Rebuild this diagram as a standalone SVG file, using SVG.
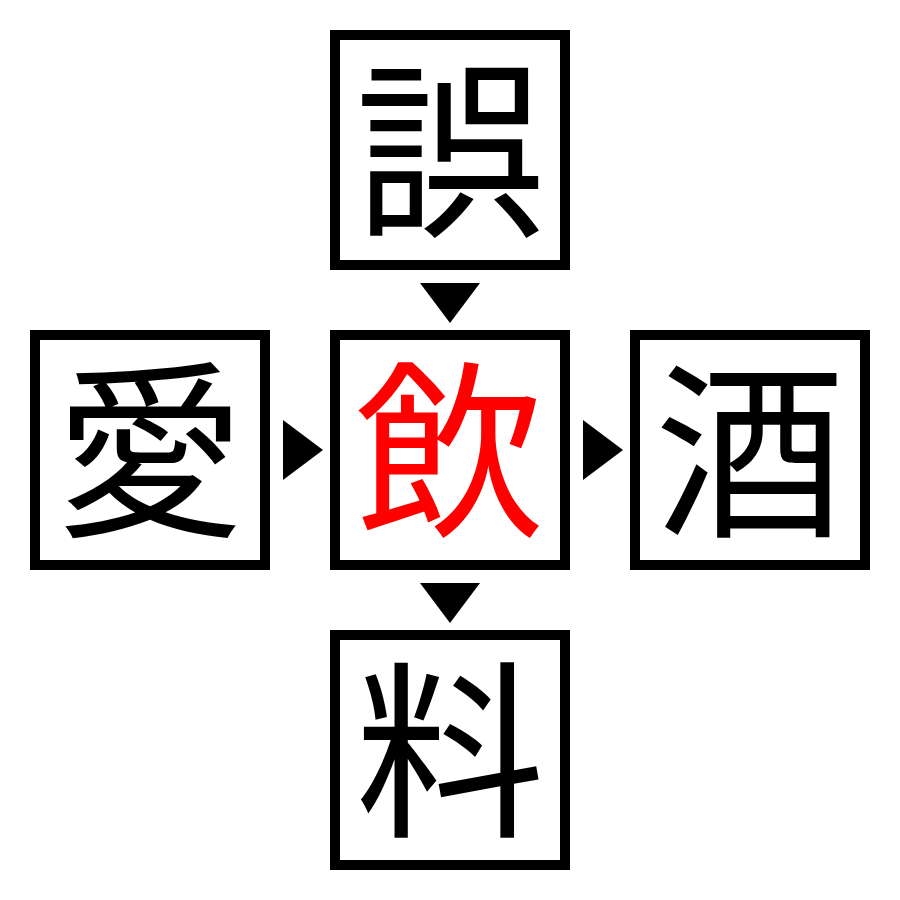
<svg xmlns="http://www.w3.org/2000/svg" width="900" height="900" viewBox="0 0 900 900">
<style>
.box{fill:#fff;stroke:#000;stroke-width:10}
.ch{font-family:"Noto Sans CJK JP","Noto Sans CJK SC",sans-serif;font-size:190px;text-anchor:middle}
.arr{fill:#000}
</style>
<rect width="900" height="900" fill="#fff"/>
<g id="connectors">
<polygon class="arr" points="420,283 480,283 450,323"/>
<polygon class="arr" points="283,420 283,480 323,450"/>
<polygon class="arr" points="583,420 583,480 623,450"/>
<polygon class="arr" points="420,583 480,583 450,623"/>
</g>
<g id="node-top"><rect class="box" x="335" y="35" width="230" height="230"/><text class="ch" x="450" y="222">誤</text></g>
<g id="node-left"><rect class="box" x="35" y="335" width="230" height="230"/><text class="ch" x="150" y="522">愛</text></g>
<g id="node-center"><rect class="box" x="335" y="335" width="230" height="230"/><text class="ch" x="450" y="522" fill="#ff0000">飲</text></g>
<g id="node-right"><rect class="box" x="635" y="335" width="230" height="230"/><text class="ch" x="750" y="522">酒</text></g>
<g id="node-bottom"><rect class="box" x="335" y="635" width="230" height="230"/><text class="ch" x="450" y="822">料</text></g>
</svg>
